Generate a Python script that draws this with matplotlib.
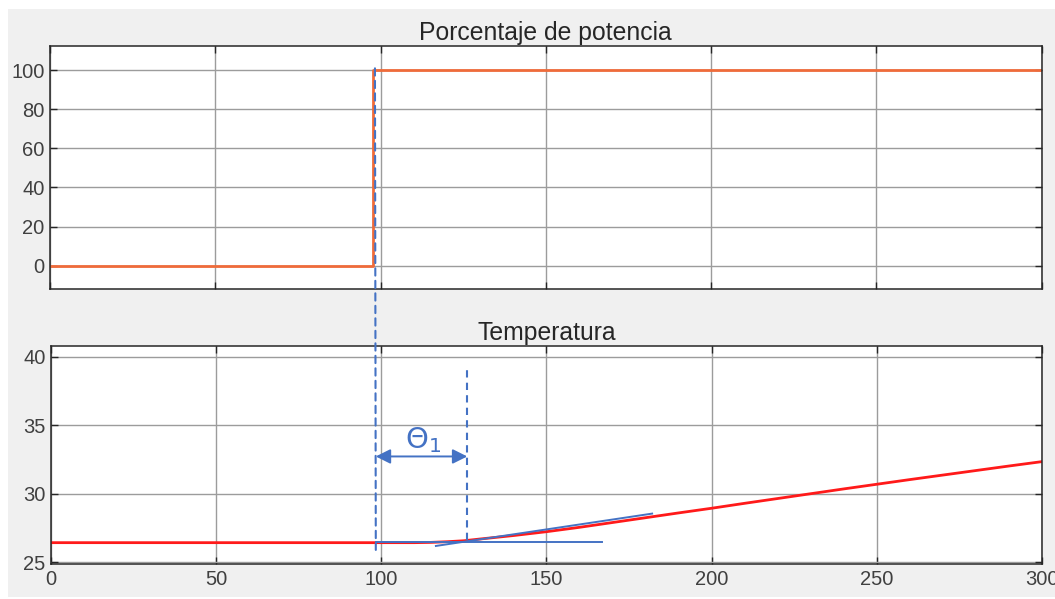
import numpy as np
import matplotlib
matplotlib.use("Agg")
import matplotlib.pyplot as plt
from matplotlib.patches import Rectangle, ConnectionPatch

plt.rcParams['font.family'] = ['Liberation Sans', 'DejaVu Sans']

# data
power_t = [0, 97.8, 97.8, 300]
power = [0, 0, 100, 100]

temp_t = [0, 60, 110, 115, 120, 125, 130, 140, 150, 160, 170, 180, 190, 200,
          210, 220, 230, 240, 250, 260, 270, 280, 290, 300]
temp = [26.43, 26.43, 26.43, 26.45, 26.5, 26.57, 26.7, 26.95, 27.23, 27.55, 27.9, 28.25, 28.6, 28.94,
        29.3, 29.65, 30.0, 30.35, 30.69, 31.03, 31.36, 31.69, 32.02, 32.34]

x_ticks = [0, 50, 100, 150, 200, 250, 300]
power_ticks = [0, 20, 40, 60, 80, 100]
temp_ticks = [25, 30, 35, 40]

# annotation values
step_mark = 98.3
theta_end = 126.0
arrow_level = 32.72
base_level = 26.5
tangent_t = [116.5, 182.0]
tangent_T = [26.19, 28.55]

BLUE = '#4472c4'
ORANGE = '#ef6b3a'
RED = '#ff1a1a'
INK = '#262626'
GRID = '#9c9c9c'

fig = plt.figure(figsize=(10.55, 5.99), dpi=100, facecolor='white')
fig.add_artist(Rectangle((0.0076, 0.0033), 1.0, 0.9817, transform=fig.transFigure,
                         facecolor='#f0f0f0', edgecolor='none', zorder=-5))

ax1 = fig.add_axes([0.0474, 0.5175, 0.94, 0.4057])
ax2 = fig.add_axes([0.0486, 0.0579, 0.9388, 0.3645])


def style(ax):
    ax.set_facecolor('white')
    ax.grid(True, color=GRID, linewidth=1.0)
    ax.set_axisbelow(True)
    for s in ax.spines.values():
        s.set_color(INK)
        s.set_linewidth(1.1)
    ax.tick_params(direction='in', length=5, width=1, color=INK, labelcolor='#404040',
                   labelsize=14.5, top=True, right=True, pad=4)
    ax.set_xlim(0, 300)
    ax.set_xticks(x_ticks)


style(ax1)
ax1.plot(power_t, power, color=ORANGE, linewidth=2)
ax1.set_ylim(-11.9, 112.3)
ax1.set_yticks(power_ticks)
ax1.set_xticklabels([])
ax1.set_title('Porcentaje de potencia', fontsize=17.8, color=INK, pad=4)

style(ax2)
ax2.plot(temp_t, temp, color=RED, linewidth=2)
ax2.set_ylim(24.85, 40.78)
ax2.set_yticks(temp_ticks)
ax2.set_title('Temperatura', fontsize=17.8, color=INK, pad=4)

# dashed line crossing both panels at the step
con = ConnectionPatch(xyA=(step_mark, 100.9), coordsA=ax1.transData,
                      xyB=(step_mark, 25.9), coordsB=ax2.transData,
                      color=BLUE, linewidth=1.5, linestyle=(0, (3.5, 2.5)))
fig.add_artist(con)

ax2.plot([theta_end, theta_end], [26.6, 39.3], color=BLUE, linewidth=1.5,
         linestyle=(0, (3.5, 2.5)))
ax2.plot([step_mark, 166.7], [base_level, base_level], color=BLUE, linewidth=1.4)
ax2.plot(tangent_t, tangent_T, color=BLUE, linewidth=1.4)

ax2.annotate('', xy=(step_mark, arrow_level), xytext=(theta_end, arrow_level),
             arrowprops=dict(arrowstyle='<|-|>', color=BLUE, linewidth=1.4,
                             mutation_scale=22, shrinkA=0, shrinkB=0))
ax2.text((step_mark + theta_end) / 2 + 0.5, 33.9, r'$\Theta_1$', color=BLUE, fontsize=21,
         ha='center', va='center')

fig.savefig('out.png', dpi=100, facecolor=fig.get_facecolor())
